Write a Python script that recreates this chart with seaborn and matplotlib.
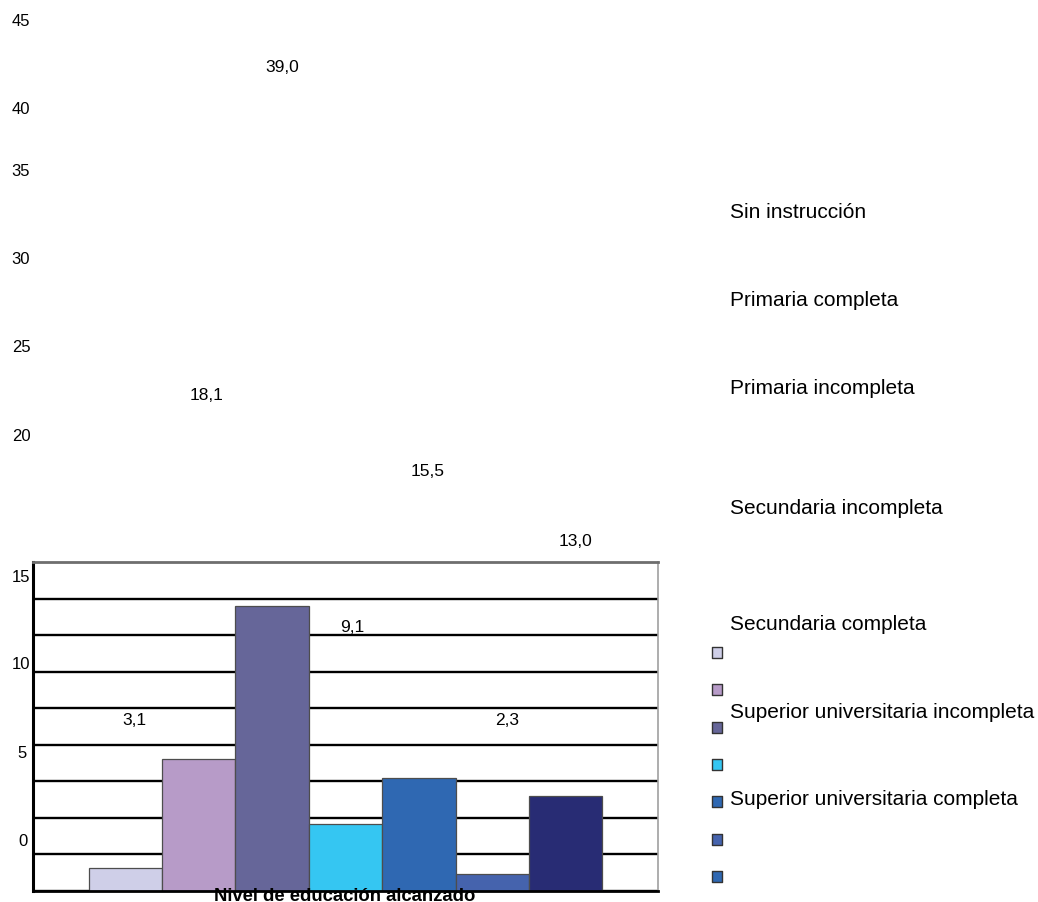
import matplotlib
matplotlib.use("Agg")
import matplotlib.pyplot as plt
import seaborn as sns
import pandas as pd

# --- data ---------------------------------------------------------------
niveles = [
    "Sin instrucción",
    "Primaria completa",
    "Primaria incompleta",
    "Secundaria incompleta",
    "Secundaria completa",
    "Superior universitaria incompleta",
    "Superior universitaria completa",
]
porcentajes = [3.1, 18.1, 39.0, 9.1, 15.5, 2.3, 13.0]
colores_barras = ["#cfcfe8", "#b79bc8", "#666699", "#35c6f2", "#2f68b2", "#4563ad", "#282c74"]
colores_leyenda = ["#cfcfe8", "#b79bc8", "#666699", "#35c6f2", "#2f68b2", "#4563ad", "#2f68b2"]
marcas_eje = ["45", "40", "35", "30", "25", "20", "15", "10", "5", "0"]
titulo_eje = "Nivel de educación alcanzado"

# --- layout (pixel positions on a 1038 x 903 canvas) ---------------------
W, H = 1038, 903
pos_marcas = [(21, 22), (21, 110), (21, 172), (21, 260), (21, 347), (21, 437),
              (21, 577), (21, 665), (22, 754), (23, 842)]
pos_valores = [(134, 721), (207, 396), (282, 68), (352, 627), (428, 472), (507, 721), (576, 542)]
pos_textos_leyenda = [213, 301, 388, 508, 625, 712, 800]

sns.set_style("white")
plt.rcParams["font.family"] = ["Liberation Sans", "DejaVu Sans"]
plt.rcParams["text.color"] = "black"

fig = plt.figure(figsize=(W / 100, H / 100), dpi=100)


def fx(px):
    return px / W


def fy(py):
    return 1 - py / H


# --- bar panel ------------------------------------------------------------
ax = fig.add_axes([fx(33), fy(892), fx(658) - fx(33), fy(563) - fy(892)])
df = pd.DataFrame({"grupo": ["total"] * len(niveles), "nivel": niveles, "porcentaje": porcentajes})
sns.barplot(data=df, x="grupo", y="porcentaje", hue="nivel", hue_order=niveles,
            palette=colores_barras, width=0.822, saturation=1, edgecolor="#4d4d4d",
            linewidth=0.9, legend=False, ax=ax)
ax.set_xlim(-0.5, 0.5)
ax.set_ylim(0, 45)
ax.set_xlabel("")
ax.set_ylabel("")
ax.set_yticks(range(0, 41, 5))
ax.set_xticks([-0.5, 0.5])
ax.tick_params(axis="y", length=0, labelleft=False)
ax.tick_params(axis="x", length=4, width=1.6, direction="out", color="black", labelbottom=False)
ax.grid(axis="y", color="black", linewidth=1.7)
ax.grid(axis="x", visible=False)
ax.set_axisbelow(True)
ax.spines["left"].set_color("black")
ax.spines["left"].set_linewidth(2.2)
ax.spines["bottom"].set_color("black")
ax.spines["bottom"].set_linewidth(2.0)
ax.spines["top"].set_color("#6e6e6e")
ax.spines["top"].set_linewidth(2.0)
ax.spines["right"].set_color("#a0a0a0")
ax.spines["right"].set_linewidth(1.2)
ax.patch.set_alpha(0)

# --- scattered axis numbers -------------------------------------------------
for txt, (x, y) in zip(marcas_eje, pos_marcas):
    fig.text(fx(x), fy(y), txt, ha="center", va="center", fontsize=12)

# --- value labels -------------------------------------------------------------
for v, (x, y) in zip(porcentajes, pos_valores):
    fig.text(fx(x), fy(y), f"{v:.1f}".replace(".", ","), ha="center", va="center", fontsize=12.5)

# --- legend ---------------------------------------------------------------
for txt, y in zip(niveles, pos_textos_leyenda):
    fig.text(fx(730), fy(y), txt, ha="left", va="center", fontsize=15)

axl = fig.add_axes([fx(707), fy(896.5), fx(20), 262 / H])
axl.scatter([0.5] * len(colores_leyenda), list(range(len(colores_leyenda))), marker="s", s=62,
            c=colores_leyenda, edgecolors="#333333", linewidths=1.0)
axl.set_xlim(0, 1)
axl.set_ylim(len(colores_leyenda) - 0.5, -0.5)
axl.axis("off")

# --- axis title (sits on the bottom edge) ----------------------------------------
fig.text(fx(345), fy(901), titulo_eje, ha="center", va="baseline", fontsize=13.3, fontweight="bold")

fig.savefig("out.png", dpi=100)
